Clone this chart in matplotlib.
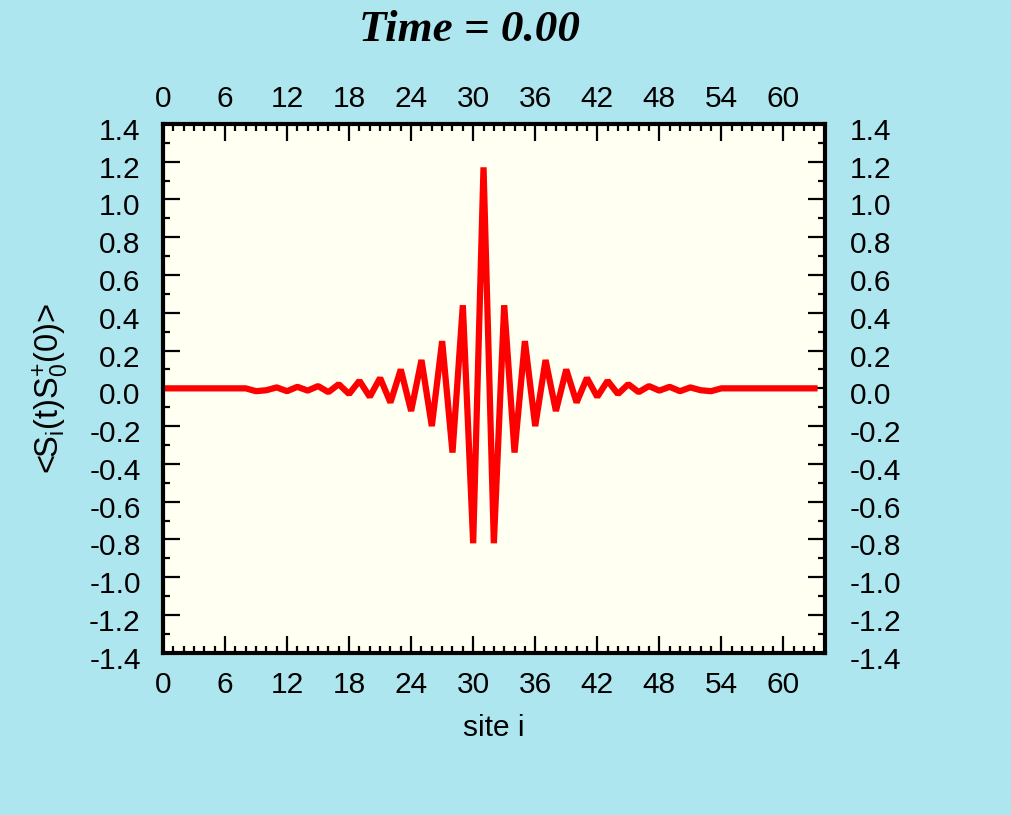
import numpy as np
import matplotlib.pyplot as plt
import matplotlib.transforms as mtransforms
from matplotlib.ticker import MultipleLocator, FormatStrFormatter

plt.rcParams['font.family'] = ['Liberation Sans', 'DejaVu Sans']
plt.rcParams['axes.unicode_minus'] = False
plt.rcParams['mathtext.fontset'] = 'custom'
plt.rcParams['mathtext.rm'] = 'Liberation Sans'
plt.rcParams['mathtext.it'] = 'Liberation Sans:italic'

# correlation <S_i(t) S_0^+(0)> at t = 0, one value per site i
site = np.arange(64)
corr = [
    0.0, 0.0, 0.0, 0.0, 0.0, 0.0, 0.0, 0.0, 0.0, -0.015,
    -0.01, 0.005, -0.015, 0.008, -0.012, 0.012, -0.02, 0.022, -0.03, 0.04,
    -0.045, 0.055, -0.075, 0.10, -0.12, 0.15, -0.20, 0.25, -0.34, 0.44,
    -0.82, 1.17, -0.82, 0.44, -0.34, 0.25, -0.20, 0.15, -0.12, 0.10,
    -0.075, 0.055, -0.045, 0.04, -0.03, 0.022, -0.02, 0.012, -0.012, 0.008,
    -0.015, 0.005, -0.01, -0.015, 0.0, 0.0, 0.0, 0.0, 0.0, 0.0,
    0.0, 0.0, 0.0, 0.0,
]
title = 'Time = 0.00'

bg = '#aee6ef'
fig = plt.figure(figsize=(10.12, 8.15), dpi=100, facecolor=bg)
ax = fig.add_axes([0.161, 0.199, 0.654, 0.649], facecolor='#fffff2')

ax.plot(site, corr, color='#ff0000', lw=4.5, solid_joinstyle='bevel')

ax.set_xlim(0, 64)
ax.set_ylim(-1.4, 1.4)
ax.xaxis.set_major_locator(MultipleLocator(6))
ax.xaxis.set_minor_locator(MultipleLocator(1))
ax.yaxis.set_major_locator(MultipleLocator(0.2))
ax.yaxis.set_minor_locator(MultipleLocator(0.1))
ax.yaxis.set_major_formatter(FormatStrFormatter('%.1f'))

for sp in ax.spines.values():
    sp.set_linewidth(3)

ax.tick_params(which='both', direction='in', top=True, right=True,
               labeltop=True, labelright=True, width=1.6, labelsize=21.5,
               colors='black')
ax.tick_params(which='major', length=12)
ax.tick_params(which='minor', length=5)
ax.tick_params(axis='y', pad=16)
ax.tick_params(axis='x', pad=13)

# nudge labels like the original screen layout
down5 = mtransforms.ScaledTranslation(0, -0.05, fig.dpi_scale_trans)
right3 = mtransforms.ScaledTranslation(0.03, -0.05, fig.dpi_scale_trans)
for t in ax.yaxis.get_major_ticks():
    t.label1.set_transform(t.label1.get_transform() + down5)
    t.label2.set_transform(t.label2.get_transform() + right3)
down7 = mtransforms.ScaledTranslation(0, -0.07, fig.dpi_scale_trans)
for t in ax.xaxis.get_major_ticks():
    t.label2.set_transform(t.label2.get_transform() + down7)

fig.text(0.4635, 0.963, title, ha='center', va='center', fontsize=32.5,
         family='Liberation Serif', weight='bold', style='italic')
fig.text(494 / 1012, 1 - 728 / 815, 'site i', ha='center', va='center',
         fontsize=21.5)
fig.text(0.05, 0.523,
         r'<S$_\mathregular{i}$(t)S$_\mathregular{0}^\mathregular{+}$(0)>',
         rotation=90, ha='center', va='center', fontsize=23.5)

fig.savefig('out.png', dpi=100, facecolor=bg)
